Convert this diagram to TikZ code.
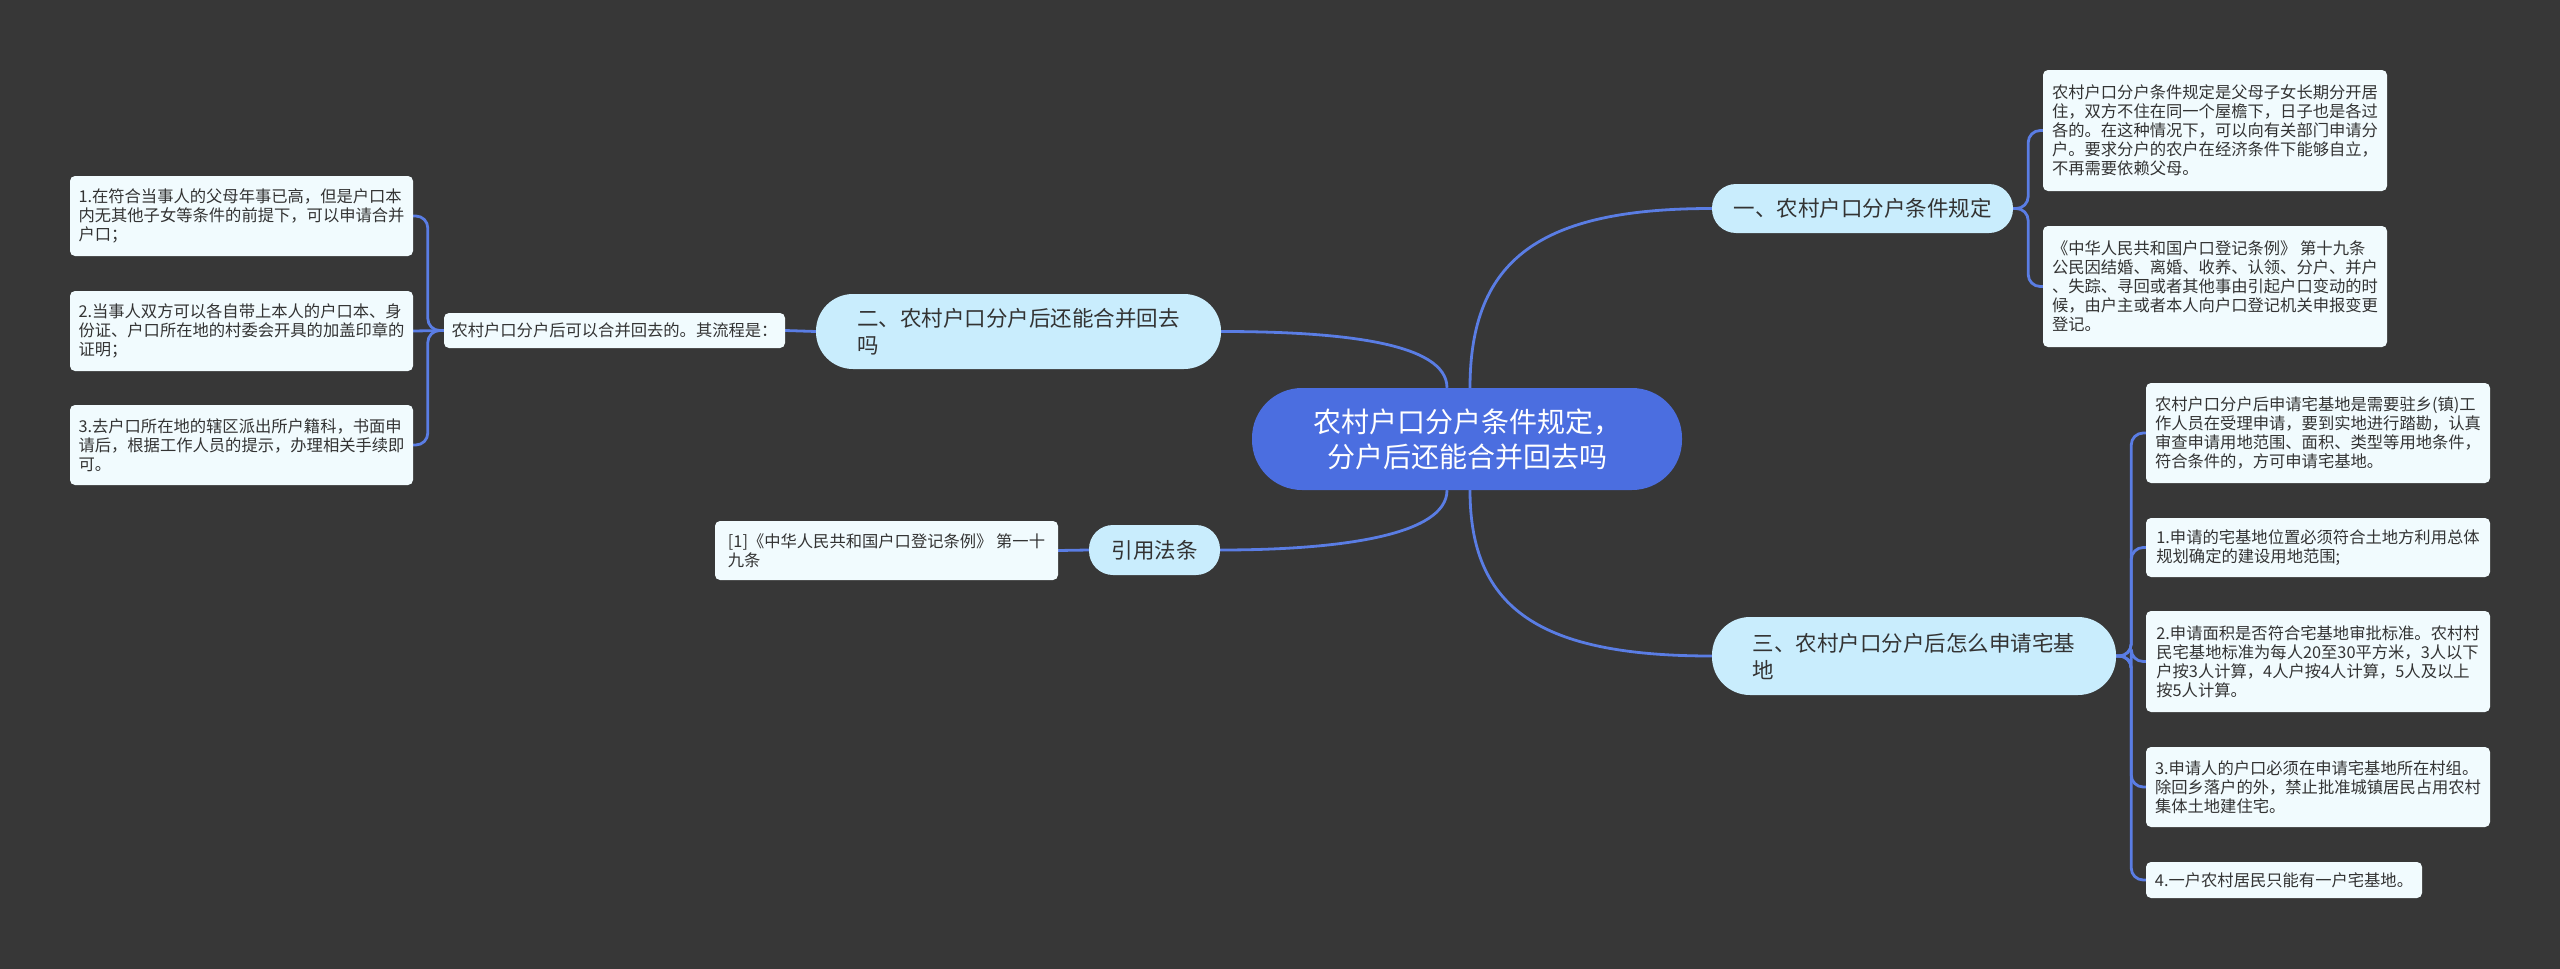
\documentclass[tikz,border=0pt]{standalone}
\usepackage{fontspec}
\setmainfont{Noto Sans CJK SC}
\usepackage{tikz}
\usetikzlibrary{positioning, calc, backgrounds}
\usepackage{xcolor}
\definecolor{bgdark}{HTML}{373737}
\definecolor{rootblue}{HTML}{4B6EE0}
\definecolor{topicblue}{HTML}{C9EDFD}
\definecolor{leafwhite}{HTML}{F1FBFE}
\definecolor{linkblue}{HTML}{5A7DE4}
\definecolor{textdark}{HTML}{333333}

\begin{document}
\begin{tikzpicture}[
  x=1pt, y=-1pt,
  every node/.style={font=\fontsize{16.3}{19}\selectfont, text=textdark, inner sep=4pt},
  root/.style={fill=rootblue, text=white, rounded corners=50pt, align=center,
               minimum width=430pt, minimum height=102pt, font=\fontsize{28}{35}\selectfont},
  topic/.style={fill=topicblue, align=left, font=\fontsize{21.5}{27}\selectfont},
  leaf/.style={fill=leafwhite, rounded corners=5pt, align=left, minimum width=344pt},
  conn/.style={draw=linkblue, line width=2.8pt},
  bus/.style={conn, rounded corners=12pt}
]
% root
\node[root] (ctr) at (1467, 439) {农村户口分户条件规定，\\分户后还能合并回去吗};

% branch one (right, top)
\node[topic, rounded corners=24pt, minimum width=301pt, minimum height=49pt] (b1) at (1862.5, 208.5) {一、农村户口分户条件规定};
\node[leaf, minimum height=121pt] (r11) at (2215, 130.5) {农村户口分户条件规定是父母子女长期分开居\\住，双方不住在同一个屋檐下，日子也是各过\\各的。在这种情况下，可以向有关部门申请分\\户。要求分户的农户在经济条件下能够自立，\\不再需要依赖父母。};
\node[leaf, minimum height=121pt] (r12) at (2215, 286.5) {《中华人民共和国户口登记条例》 第十九条\\公民因结婚、离婚、收养、认领、分户、并户\\、失踪、寻回或者其他事由引起户口变动的时\\候，由户主或者本人向户口登记机关申报变更\\登记。};

% branch two (left, top)
\node[topic, rounded corners=37pt, minimum width=405pt, minimum height=75pt] (b2) at (1018.5, 331.5) {二、农村户口分户后还能合并回去\\吗};
\node[leaf, minimum width=341pt, minimum height=35pt] (l21) at (614.5, 330.5) {农村户口分户后可以合并回去的。其流程是：};
\node[leaf, minimum width=343pt, minimum height=80pt] (l2a) at (241.5, 216) {1.在符合当事人的父母年事已高，但是户口本\\内无其他子女等条件的前提下，可以申请合并\\户口；};
\node[leaf, minimum width=343pt, minimum height=80pt] (l2b) at (241.5, 331) {2.当事人双方可以各自带上本人的户口本、身\\份证、户口所在地的村委会开具的加盖印章的\\证明；};
\node[leaf, minimum width=343pt, minimum height=80pt] (l2c) at (241.5, 445) {3.去户口所在地的辖区派出所户籍科，书面申\\请后，根据工作人员的提示，办理相关手续即\\可。};

% branch three (right, bottom)
\node[topic, rounded corners=38pt, minimum width=404pt, minimum height=78pt] (b3) at (1914, 656) {三、农村户口分户后怎么申请宅基\\地};
\node[leaf, minimum height=100pt] (r31) at (2318, 433) {农村户口分户后申请宅基地是需要驻乡(镇)工\\作人员在受理申请，要到实地进行踏勘，认真\\审查申请用地范围、面积、类型等用地条件，\\符合条件的，方可申请宅基地。};
\node[leaf, minimum height=59pt] (r32) at (2318, 547.5) {1.申请的宅基地位置必须符合土地方利用总体\\规划确定的建设用地范围;};
\node[leaf, minimum height=101pt] (r33) at (2318, 661.5) {2.申请面积是否符合宅基地审批标准。农村村\\民宅基地标准为每人20至30平方米，3人以下\\户按3人计算，4人户按4人计算，5人及以上\\按5人计算。};
\node[leaf, minimum height=80pt] (r34) at (2318, 787) {3.申请人的户口必须在申请宅基地所在村组。\\除回乡落户的外，禁止批准城镇居民占用农村\\集体土地建住宅。};
\node[leaf, minimum width=276pt, minimum height=36pt] (r35) at (2284, 880) {4.一户农村居民只能有一户宅基地。};

% branch four (left, bottom)
\node[topic, rounded corners=24pt, minimum width=131pt, minimum height=50pt] (b4) at (1154.5, 550) {引用法条};
\node[leaf, minimum width=343pt, minimum height=59pt] (l41) at (886.5, 550.5) {[1]《中华人民共和国户口登记条例》 第一十\\九条};

% background and links
\begin{scope}[on background layer]
\fill[bgdark] (0, 0) rectangle (2560, 969);
\draw[conn] ($(ctr.north)+(3,0)$) .. controls +(0,-130) and +(-170,0) .. (b1.west);
\draw[conn] ($(ctr.north)+(-20,0)$) .. controls +(0,-45) and +(120,0) .. (b2.east);
\draw[conn] ($(ctr.south)+(-20,0)$) .. controls +(0,45) and +(120,0) .. (b4.east);
\draw[conn] ($(ctr.south)+(3,0)$) .. controls +(0,120) and +(-170,0) .. (b3.west);
\draw[conn] (b2.west) -- (l21.east);
\draw[conn] (b4.west) -- (l41.east);
\foreach \leafnode in {r11, r12}
  \draw[bus] (b1.east) -- ++(15,0) |- (\leafnode.west);
\foreach \leafnode in {r31, r32, r33, r34, r35}
  \draw[bus] (b3.east) -- ++(15,0) |- (\leafnode.west);
\foreach \leafnode in {l2a, l2c}
  \draw[bus] (l21.west) -- ++(-16,0) |- (\leafnode.east);
\draw[conn] (l21.west) -- (l2b.east);
\end{scope}
\end{tikzpicture}
\end{document}
